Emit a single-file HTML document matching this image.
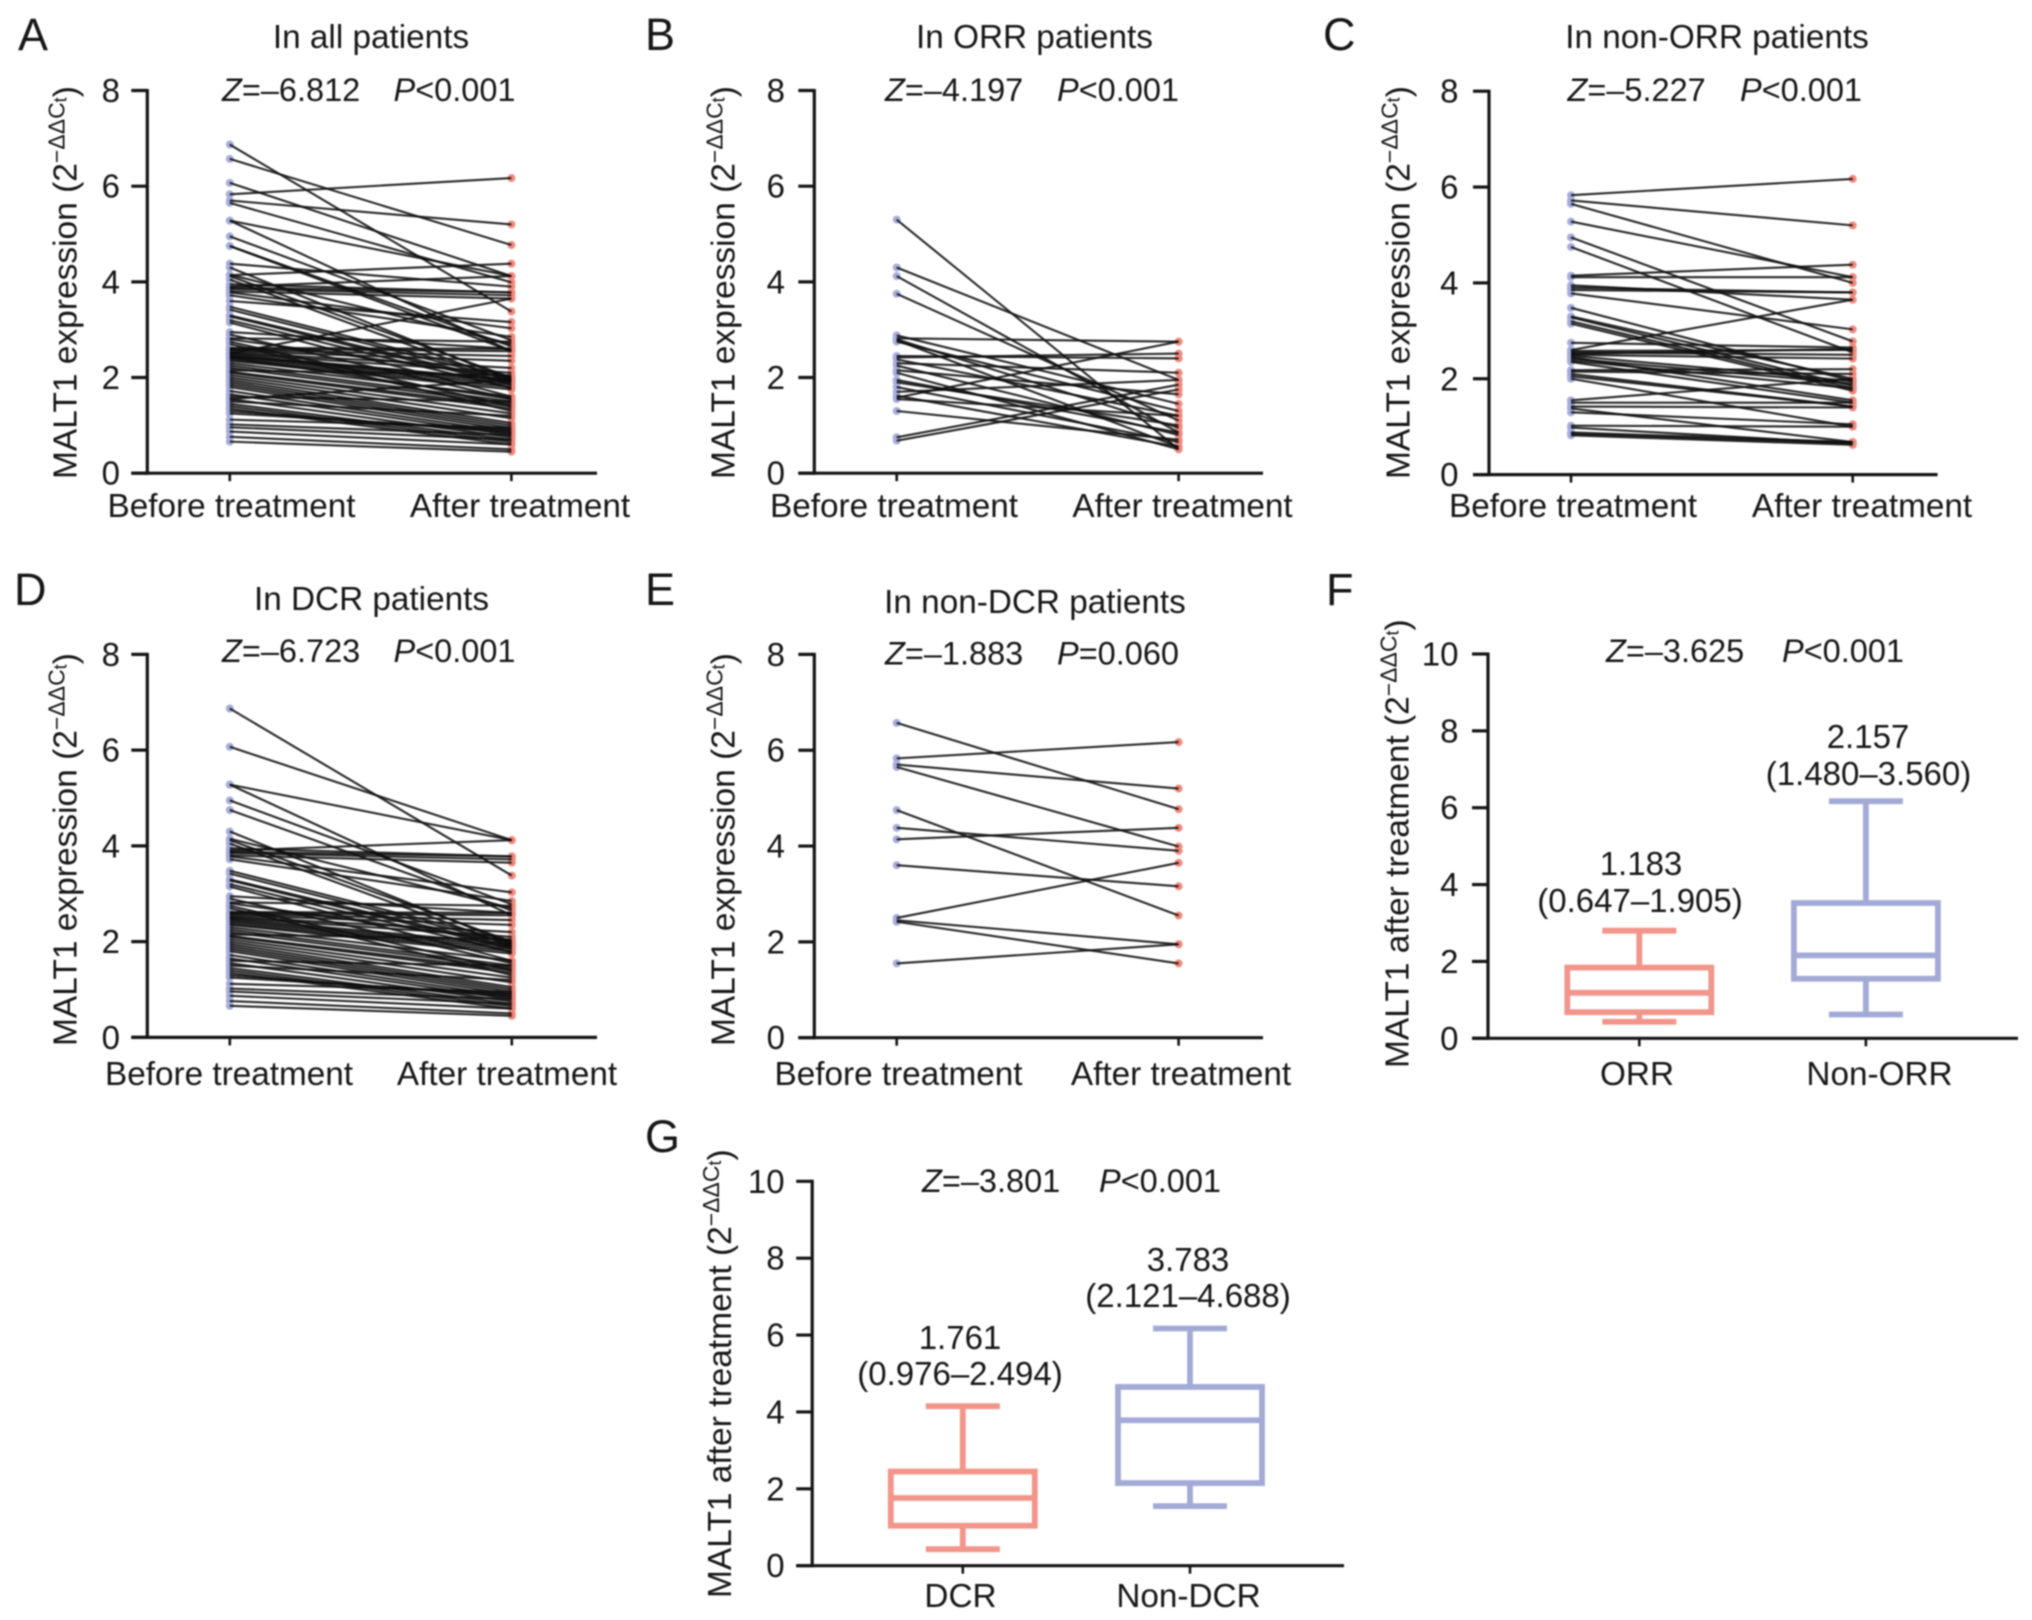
<!DOCTYPE html>
<html lang="en">
<head>
<meta charset="utf-8">
<title>MALT1 expression before and after treatment</title>
<style>
html,body{margin:0;padding:0;background:#fff;}
#figure{display:block;width:2032px;height:1620px;filter:blur(0.7px);}
text{font-family:"Liberation Sans",Arial,sans-serif;fill:#161616;font-size:33px;}
.letter{font-size:45px;}
.ytitle{font-size:33.5px;}
.sup{font-size:23px;}
.sub{font-size:18px;}
.mid{text-anchor:middle;}
.it{font-style:italic;}
.stat{font-size:32.5px;}
.lab{font-size:33.3px;}
</style>
</head>
<body>
<svg id="figure" xmlns="http://www.w3.org/2000/svg" width="2032" height="1620" viewBox="0 0 2032 1620">
  <rect width="2032" height="1620" fill="#ffffff"/>

  <!-- Panel A -->
  <text class="letter" x="18" y="50">A</text>
  <text class="mid lab" x="371" y="48">In all patients</text>
  <text class="stat" x="222" y="101"><tspan class="it">Z</tspan>=–6.812</text>
  <text class="stat" x="393.5" y="101"><tspan class="it">P</tspan>&lt;0.001</text>
  <text class="mid lab" x="231.5" y="517">Before treatment</text>
  <text class="mid lab" x="520" y="517">After treatment</text>
  <text class="ytitle" transform="translate(76.6,479) rotate(-90)">MALT1 expression (2<tspan class="sup" dy="-12">−ΔΔC</tspan><tspan class="sub" dy="2">t</tspan><tspan dy="10">)</tspan></text>

  <!-- Panel B -->
  <text class="letter" x="645" y="50">B</text>
  <text class="mid lab" x="1034.5" y="48">In ORR patients</text>
  <text class="stat" x="885" y="101"><tspan class="it">Z</tspan>=–4.197</text>
  <text class="stat" x="1057" y="101"><tspan class="it">P</tspan>&lt;0.001</text>
  <text class="mid lab" x="894" y="517">Before treatment</text>
  <text class="mid lab" x="1182.5" y="517">After treatment</text>
  <text class="ytitle" transform="translate(734.5,479) rotate(-90)">MALT1 expression (2<tspan class="sup" dy="-12">−ΔΔC</tspan><tspan class="sub" dy="2">t</tspan><tspan dy="10">)</tspan></text>

  <!-- Panel C -->
  <text class="letter" x="1323" y="50">C</text>
  <text class="mid lab" x="1717" y="48">In non-ORR patients</text>
  <text class="stat" x="1567.5" y="101"><tspan class="it">Z</tspan>=–5.227</text>
  <text class="stat" x="1740" y="101"><tspan class="it">P</tspan>&lt;0.001</text>
  <text class="mid lab" x="1573" y="517">Before treatment</text>
  <text class="mid lab" x="1862" y="517">After treatment</text>
  <text class="ytitle" transform="translate(1409.5,479) rotate(-90)">MALT1 expression (2<tspan class="sup" dy="-12">−ΔΔC</tspan><tspan class="sub" dy="2">t</tspan><tspan dy="10">)</tspan></text>

  <!-- Panel D -->
  <text class="letter" x="14" y="605">D</text>
  <text class="mid lab" x="371.5" y="610">In DCR patients</text>
  <text class="stat" x="222" y="662"><tspan class="it">Z</tspan>=–6.723</text>
  <text class="stat" x="393.5" y="662"><tspan class="it">P</tspan>&lt;0.001</text>
  <text class="mid lab" x="229" y="1085">Before treatment</text>
  <text class="mid lab" x="507" y="1085">After treatment</text>
  <text class="ytitle" transform="translate(76.6,1046) rotate(-90)">MALT1 expression (2<tspan class="sup" dy="-12">−ΔΔC</tspan><tspan class="sub" dy="2">t</tspan><tspan dy="10">)</tspan></text>

  <!-- Panel E -->
  <text class="letter" x="645" y="605">E</text>
  <text class="mid lab" x="1035" y="613">In non-DCR patients</text>
  <text class="stat" x="885" y="664.5"><tspan class="it">Z</tspan>=–1.883</text>
  <text class="stat" x="1057" y="664.5"><tspan class="it">P</tspan>=0.060</text>
  <text class="mid lab" x="898.5" y="1085">Before treatment</text>
  <text class="mid lab" x="1181" y="1085">After treatment</text>
  <text class="ytitle" transform="translate(734.5,1046) rotate(-90)">MALT1 expression (2<tspan class="sup" dy="-12">−ΔΔC</tspan><tspan class="sub" dy="2">t</tspan><tspan dy="10">)</tspan></text>

  <!-- Panel F -->
  <text class="letter" x="1326" y="605">F</text>
  <text class="stat" x="1606" y="662"><tspan class="it">Z</tspan>=–3.625</text>
  <text class="stat" x="1782" y="662"><tspan class="it">P</tspan>&lt;0.001</text>
  <text class="mid" x="1641" y="875">1.183</text>
  <text class="mid" x="1640" y="912">(0.647–1.905)</text>
  <text class="mid" x="1868" y="748">2.157</text>
  <text class="mid" x="1868.5" y="785">(1.480–3.560)</text>
  <text class="mid lab" x="1637" y="1085">ORR</text>
  <text class="mid lab" x="1879.5" y="1085">Non-ORR</text>
  <text class="ytitle" transform="translate(1408.5,1068) rotate(-90)">MALT1 after treatment (2<tspan class="sup" dy="-12">−ΔΔC</tspan><tspan class="sub" dy="2">t</tspan><tspan dy="10">)</tspan></text>

  <!-- Panel G -->
  <text class="letter" x="645" y="1152">G</text>
  <text class="stat" x="922" y="1192"><tspan class="it">Z</tspan>=–3.801</text>
  <text class="stat" x="1099" y="1192"><tspan class="it">P</tspan>&lt;0.001</text>
  <text class="mid" x="960" y="1349">1.761</text>
  <text class="mid" x="960" y="1385">(0.976–2.494)</text>
  <text class="mid" x="1188" y="1271">3.783</text>
  <text class="mid" x="1188" y="1307">(2.121–4.688)</text>
  <text class="mid lab" x="960.5" y="1607">DCR</text>
  <text class="mid lab" x="1188.5" y="1607">Non-DCR</text>
  <text class="ytitle" transform="translate(731,1598) rotate(-90)">MALT1 after treatment (2<tspan class="sup" dy="-12">−ΔΔC</tspan><tspan class="sub" dy="2">t</tspan><tspan dy="10">)</tspan></text>
</svg>

<script>
// ---------- tick labels ----------
const pairedTicks = [0, 2, 4, 6, 8];
const boxTicks = [0, 2, 4, 6, 8, 10];

// ---------- paired series ----------
const panelABefore = [
  6.87,6.07,5.28,5.28,4.95,4.75,4.30,4.15,4.12,4.05,
  3.95,3.90,3.88,3.85,3.80,3.78,3.72,3.48,3.42,3.30,
  3.28,3.20,3.15,2.95,2.90,2.82,2.80,2.75,2.70,2.62,
  2.60,2.58,2.55,2.52,2.50,2.48,2.45,2.42,2.38,2.35,
  2.30,2.25,2.20,2.15,2.12,2.10,2.05,2.00,1.95,1.90,
  1.85,1.80,1.72,1.65,1.60,1.55,1.50,1.45,1.40,1.35,
  1.30,1.25,1.12,1.02,0.96,0.87,0.76,0.66,
  6.57,5.83,5.70,5.65,4.75,4.38,4.14,3.60,2.50,
  2.45,2.42,1.55
];
const panelAAfter = [
  3.38,4.12,4.12,2.55,2.78,2.65,1.95,2.70,2.00,1.90,
  3.78,4.12,3.78,3.72,3.65,3.03,2.85,2.00,1.95,1.90,
  1.85,1.78,1.60,2.60,1.55,2.75,2.00,1.40,1.30,2.60,
  2.55,2.45,2.35,2.20,2.10,1.95,1.90,1.85,1.80,1.75,
  1.60,1.50,1.45,2.05,1.40,1.35,1.25,1.15,1.05,1.00,
  0.95,0.90,0.85,0.80,1.50,0.75,1.20,0.70,0.65,0.60,
  0.85,0.90,0.95,0.80,0.70,0.60,0.50,0.45,
  4.77,6.17,5.20,3.99,2.55,3.90,4.38,3.16,3.65,
  1.95,1.55,1.95
];

const panelBBefore = [
  5.30,4.30,4.12,3.75,2.88,2.82,2.80,2.78,2.75,2.45,
  2.42,2.38,2.30,2.25,2.15,2.10,1.95,1.90,1.80,1.70,
  1.62,1.58,1.55,1.30,0.75,0.68
];
const panelBAfter = [
  0.50,1.95,0.85,1.10,1.45,2.75,0.95,0.55,1.30,2.40,
  2.50,1.20,2.10,0.80,1.65,0.50,0.85,1.00,0.65,1.95,
  0.55,2.75,1.20,0.70,1.85,1.75
];

const panelCBefore = [
  5.83,5.72,5.65,5.28,4.95,4.75,4.15,4.12,3.95,3.90,
  3.85,3.78,3.48,3.30,3.28,3.20,3.15,2.75,2.60,2.58,
  2.55,2.52,2.50,2.48,2.45,2.42,2.38,2.35,2.18,2.15,
  2.10,2.05,2.00,1.55,1.50,1.42,1.38,1.30,1.02,0.98,
  0.88,0.85,0.82
];
const panelCAfter = [
  6.17,5.20,4.00,4.12,2.78,2.55,4.38,4.12,3.65,3.80,
  3.80,3.03,1.95,2.00,1.85,1.80,1.75,2.65,3.65,2.60,
  2.50,2.62,2.42,1.95,1.55,1.90,1.80,1.50,2.20,2.10,
  1.42,1.42,1.00,2.00,1.50,1.40,0.68,1.05,1.00,0.65,
  0.68,0.65,0.62
];

const panelDBefore = [
  6.87,6.07,5.28,5.28,4.95,4.75,4.30,4.15,4.12,4.05,
  3.95,3.90,3.88,3.85,3.80,3.78,3.72,3.48,3.42,3.30,
  3.28,3.20,3.15,2.95,2.90,2.82,2.80,2.75,2.70,2.62,
  2.60,2.58,2.55,2.52,2.50,2.48,2.45,2.42,2.38,2.35,
  2.30,2.25,2.20,2.15,2.12,2.10,2.05,2.00,1.95,1.90,
  1.85,1.80,1.72,1.65,1.60,1.55,1.50,1.45,1.40,1.35,
  1.30,1.25,1.12,1.02,0.96,0.87,0.76,0.66
];
const panelDAfter = [
  3.38,4.12,4.12,2.55,2.78,2.65,1.95,2.70,2.00,1.90,
  3.78,4.12,3.78,3.72,3.65,3.03,2.85,2.00,1.95,1.90,
  1.85,1.78,1.60,2.60,1.55,2.75,2.00,1.40,1.30,2.60,
  2.55,2.45,2.35,2.20,2.10,1.95,1.90,1.85,1.80,1.75,
  1.60,1.50,1.45,2.05,1.40,1.35,1.25,1.15,1.05,1.00,
  0.95,0.90,0.85,0.80,1.50,0.75,1.20,0.70,0.65,0.60,
  0.85,0.90,0.95,0.80,0.70,0.60,0.50,0.45
];

const panelEBefore = [6.57,5.83,5.70,5.65,4.75,4.38,4.14,3.60,2.50,2.45,2.42,1.55];
const panelEAfter = [4.77,6.17,5.20,3.99,2.55,3.90,4.38,3.16,3.65,1.95,1.55,1.95];

// ---------- box plot series: [first box, second box] ----------
const panelFCategories = ["ORR", "Non-ORR"];
const panelFLow = [0.43, 0.62];
const panelFQ1 = [0.68, 1.55];
const panelFMedian = [1.183, 2.157];
const panelFQ3 = [1.84, 3.52];
const panelFHigh = [2.80, 6.17];

const panelGCategories = ["DCR", "Non-DCR"];
const panelGLow = [0.43, 1.55];
const panelGQ1 = [1.04, 2.15];
const panelGMedian = [1.761, 3.783];
const panelGQ3 = [2.45, 4.65];
const panelGHigh = [4.15, 6.17];

// ---------- drawing ----------
const SVG_NS = "http://www.w3.org/2000/svg";
const figure = document.getElementById("figure");
const AXIS_COLOR = "#141414";
const BEFORE_COLOR = "#a7aedb";
const AFTER_COLOR = "#f08a7e";
const BOX_COLORS = ["#f2958a", "#a3aad6"];

function makeEl(tag, attrs, parent) {
  const el = document.createElementNS(SVG_NS, tag);
  for (const k in attrs) el.setAttribute(k, attrs[k]);
  parent.appendChild(el);
  return el;
}

function makeScales(frame) {
  return {
    y: function (v) { return frame.yZero + (frame.yTop - frame.yZero) * v / frame.yMax; },
    x: function (i) { return frame.xFirst + (frame.xSecond - frame.xFirst) * i; }
  };
}

function drawAxes(frame, ticks, scales, prefix, parent) {
  const yAxis = makeEl("line", { x1: frame.axisX, x2: frame.axisX, y1: scales.y(frame.yMax) - 1.5, y2: frame.yZero + 1.5, stroke: AXIS_COLOR, "stroke-width": 3.2 }, parent);
  
  
  const xAxis = makeEl("line", { x1: frame.axisX - 16, x2: frame.xEnd, y1: frame.yZero, y2: frame.yZero, stroke: AXIS_COLOR, "stroke-width": 3.2 }, parent);
  
  
  ticks.forEach(function (t) {
    const yy = scales.y(t);
    const tick = makeEl("line", { x1: frame.axisX - 16, x2: frame.axisX, y1: yy, y2: yy, stroke: AXIS_COLOR, "stroke-width": 3.2 }, parent);
    
    
    const label = makeEl("text", { x: frame.tickRight, y: yy + 11.5, "text-anchor": "end" }, parent);
    label.textContent = String(t);
    
    
  });
  [0, 1].forEach(function (i) {
    const xx = scales.x(i);
    const tick = makeEl("line", { x1: xx, x2: xx, y1: frame.yZero, y2: frame.yZero + 8, stroke: AXIS_COLOR, "stroke-width": 2.6 }, parent);
    
    
  });
}

function drawPaired(frame, before, after, prefix) {
  const group = makeEl("g", {}, figure);
  
  
  const scales = makeScales(frame);
  drawAxes(frame, pairedTicks, scales, prefix, group);
  before.forEach(function (v) {
    const dot = makeEl("circle", { cx: scales.x(0), cy: scales.y(v), r: 4, fill: BEFORE_COLOR }, group);
    
    
  });
  after.forEach(function (v) {
    const dot = makeEl("circle", { cx: scales.x(1), cy: scales.y(v), r: 4, fill: AFTER_COLOR }, group);
    
    
  });
  before.forEach(function (v, i) {
    const line = makeEl("line", { x1: scales.x(0), y1: scales.y(v), x2: scales.x(1), y2: scales.y(after[i]), stroke: "#0c0c0c", "stroke-opacity": 0.88, "stroke-width": 2.1 }, group);
    
    
  });
}

function drawBoxes(frame, categories, low, q1, median, q3, high, prefix) {
  const group = makeEl("g", {}, figure);
  
  
  const scales = makeScales(frame);
  drawAxes(frame, boxTicks, scales, prefix, group);
  const BOX_HALF = 72;
  const CAP_HALF = 37;
  categories.forEach(function (cat, i) {
    const cx = scales.x(i);
    const color = BOX_COLORS[i];
    const base = { stroke: color, "stroke-width": 5.8 };
    const slug = prefix + "-" + cat.toLowerCase();

    const whiskerUp = makeEl("line", Object.assign({ x1: cx, x2: cx, y1: scales.y(q3[i]), y2: scales.y(high[i]) }, base), group);
    
    

    const whiskerDown = makeEl("line", Object.assign({ x1: cx, x2: cx, y1: scales.y(q1[i]), y2: scales.y(low[i]) }, base), group);
    
    

    const capUp = makeEl("line", Object.assign({ x1: cx - CAP_HALF, x2: cx + CAP_HALF, y1: scales.y(high[i]), y2: scales.y(high[i]) }, base), group);
    
    

    const capDown = makeEl("line", Object.assign({ x1: cx - CAP_HALF, x2: cx + CAP_HALF, y1: scales.y(low[i]), y2: scales.y(low[i]) }, base), group);
    
    

    const box = makeEl("rect", Object.assign({ x: cx - BOX_HALF, width: BOX_HALF * 2, y: scales.y(q3[i]), height: scales.y(q1[i]) - scales.y(q3[i]), fill: "none" }, base), group);
    
    

    const med = makeEl("line", Object.assign({ x1: cx - BOX_HALF, x2: cx + BOX_HALF, y1: scales.y(median[i]), y2: scales.y(median[i]) }, base), group);
    
    
  });
}

drawPaired({ axisX: 147.3, xEnd: 597, xFirst: 229.8, xSecond: 511.4, yZero: 473.2, yTop: 90.5, yMax: 8, tickRight: 120 }, panelABefore, panelAAfter, "panel-a");
drawPaired({ axisX: 814.3, xEnd: 1263, xFirst: 896.7, xSecond: 1178.6, yZero: 473.2, yTop: 90.5, yMax: 8, tickRight: 785 }, panelBBefore, panelBAfter, "panel-b");
drawPaired({ axisX: 1489, xEnd: 1937.6, xFirst: 1571, xSecond: 1852.7, yZero: 474.6, yTop: 91.2, yMax: 8, tickRight: 1458.5 }, panelCBefore, panelCAfter, "panel-c");
drawPaired({ axisX: 147.3, xEnd: 597, xFirst: 229.8, xSecond: 511.8, yZero: 1037.4, yTop: 654.4, yMax: 8, tickRight: 120 }, panelDBefore, panelDAfter, "panel-d");
drawPaired({ axisX: 814.3, xEnd: 1263, xFirst: 896.7, xSecond: 1178.6, yZero: 1037.7, yTop: 654.4, yMax: 8, tickRight: 785 }, panelEBefore, panelEAfter, "panel-e");
drawBoxes({ axisX: 1488, xEnd: 2018, xFirst: 1639.3, xSecond: 1865.9, yZero: 1038.3, yTop: 654, yMax: 10, tickRight: 1458.5 }, panelFCategories, panelFLow, panelFQ1, panelFMedian, panelFQ3, panelFHigh, "panel-f");
drawBoxes({ axisX: 812.2, xEnd: 1344, xFirst: 962.8, xSecond: 1190, yZero: 1565.7, yTop: 1181.3, yMax: 10, tickRight: 784.6 }, panelGCategories, panelGLow, panelGQ1, panelGMedian, panelGQ3, panelGHigh, "panel-g");
</script>
</body>
</html>
